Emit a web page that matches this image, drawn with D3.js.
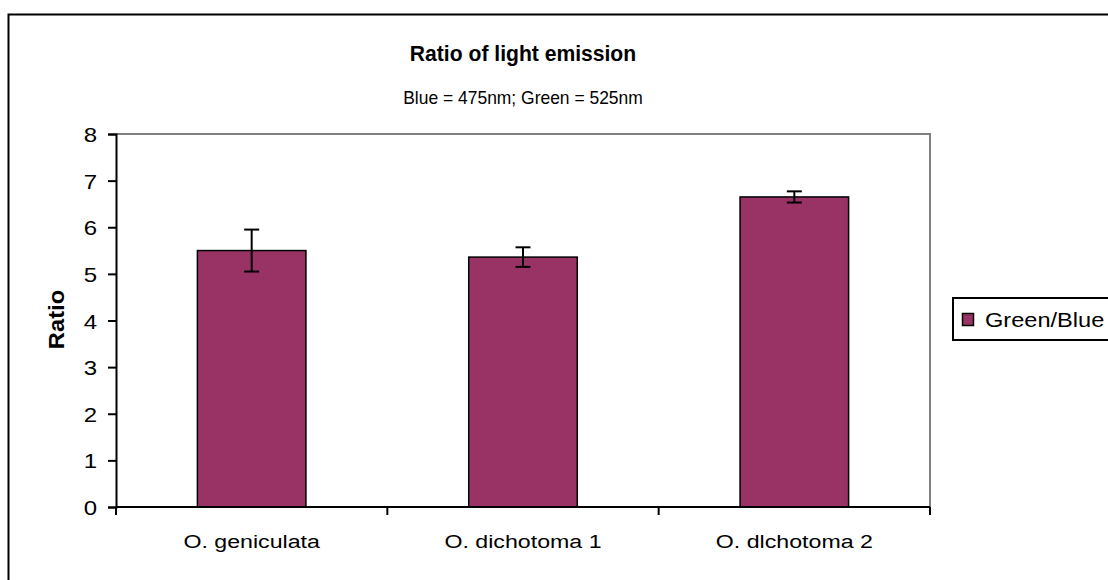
<!DOCTYPE html>
<html><head><meta charset="utf-8">
<script src="https://cdn.jsdelivr.net/npm/d3@7"></script>
<style>html,body{margin:0;padding:0;background:#fff;}svg{display:block;}text{font-family:"Liberation Sans",Arial,sans-serif;fill:#000;}</style>
</head><body>
<script>
const categories = ["O. geniculata", "O. dichotoma 1", "O. dlchotoma 2"];
const ratioValues = [5.5, 5.36, 6.65];
const ratioErrors = [0.45, 0.21, 0.12];
const yTicks = [0, 1, 2, 3, 4, 5, 6, 7, 8];
const seriesName = "Green/Blue";

const W = 1108, H = 580;
const svg = d3.select("body").append("svg").attr("width", W).attr("height", H);

// outer chart border (extends past right/bottom edge)
svg.append("rect").attr("x", 8.5).attr("y", 14.5).attr("width", W + 10).attr("height", H + 10)
  .attr("fill", "#fff").attr("stroke", "#000").attr("stroke-width", 2);

const x0 = 116, x1 = 930, yTop = 134, yBot = 507;
const x = d3.scaleBand().domain(categories).range([x0, x1]).paddingInner(0.6).paddingOuter(0.3);
const xb = d3.scaleBand().domain(categories).range([x0, x1]);
const y = d3.scaleLinear().domain([0, 8]).range([yBot, yTop]);

function stext(g, px, py, str, opts) {
  const t = g.append("g").attr("transform", `translate(${px},${py}) scale(${opts.sx || 1},1)`)
    .append("text").text(str)
    .attr("font-size", opts.size).attr("text-anchor", opts.anchor || "start");
  if (opts.bold) t.attr("font-weight", "bold");
  return t;
}

// plot area top/right border (gray)
svg.append("path").attr("d", `M${x0},${yTop}H${x1}V${yBot}`).attr("fill", "none")
  .attr("stroke", "#808080").attr("stroke-width", 2);

// bars
svg.append("g").selectAll("rect").data(categories).join("rect")
  .attr("x", d => x(d)).attr("width", x.bandwidth())
  .attr("y", (d, i) => y(ratioValues[i])).attr("height", (d, i) => y(0) - y(ratioValues[i]))
  .attr("fill", "#993366").attr("stroke", "#000").attr("stroke-width", 1.5);

// error bars
const eg = svg.append("g").attr("stroke", "#000").attr("stroke-width", 2);
categories.forEach((c, i) => {
  const cx = x(c) + x.bandwidth() / 2;
  const hi = y(ratioValues[i] + ratioErrors[i]), lo = y(ratioValues[i] - ratioErrors[i]);
  eg.append("line").attr("x1", cx).attr("x2", cx).attr("y1", hi).attr("y2", lo);
  eg.append("line").attr("x1", cx - 7.5).attr("x2", cx + 7.5).attr("y1", hi).attr("y2", hi);
  eg.append("line").attr("x1", cx - 7.5).attr("x2", cx + 7.5).attr("y1", lo).attr("y2", lo);
});

// y axis
const ya = svg.append("g").attr("transform", `translate(${x0},0)`)
  .call(d3.axisLeft(y).tickValues(yTicks).tickSize(8).tickFormat(d3.format("d")));
ya.select(".domain").attr("stroke", "#000").attr("stroke-width", 2);
ya.selectAll(".tick line").attr("stroke", "#000").attr("stroke-width", 2);
ya.selectAll(".tick text").remove();
ya.selectAll(".tick").each(function(d) {
  stext(d3.select(this), -19, 7.5, String(d), {size: 20, anchor: "end", sx: 1.2});
});

// x axis
svg.append("line").attr("x1", x0).attr("x2", x1).attr("y1", yBot).attr("y2", yBot)
  .attr("stroke", "#000").attr("stroke-width", 2);
const bounds = categories.map(c => xb(c)).concat([xb(categories[categories.length - 1]) + xb.bandwidth()]);
svg.append("g").selectAll("line").data(bounds).join("line")
  .attr("x1", d => d).attr("x2", d => d).attr("y1", yBot).attr("y2", yBot + 8)
  .attr("stroke", "#000").attr("stroke-width", 2);
categories.forEach(c => {
  stext(svg, xb(c) + xb.bandwidth() / 2, 548, c, {size: 19, anchor: "middle", sx: 1.22});
});

// axis title
svg.append("g").attr("transform", `translate(64,${(yTop + yBot) / 2 - 1}) rotate(-90) scale(1.08,1)`)
  .append("text").text("Ratio").attr("font-size", 22).attr("font-weight", "bold")
  .attr("text-anchor", "middle");

// titles
stext(svg, 523, 61, "Ratio of light emission", {size: 22, anchor: "middle", bold: true, sx: 0.96});
stext(svg, 523, 104, "Blue = 475nm; Green = 525nm", {size: 18, anchor: "middle", sx: 0.97});

// legend
svg.append("rect").attr("x", 953).attr("y", 298).attr("width", 170).attr("height", 42)
  .attr("fill", "#fff").attr("stroke", "#000").attr("stroke-width", 2);
svg.append("rect").attr("x", 962.5).attr("y", 313.5).attr("width", 11).attr("height", 12)
  .attr("fill", "#993366").attr("stroke", "#000").attr("stroke-width", 1.5);
stext(svg, 985, 327, seriesName, {size: 20, sx: 1.18});
</script>
</body></html>
